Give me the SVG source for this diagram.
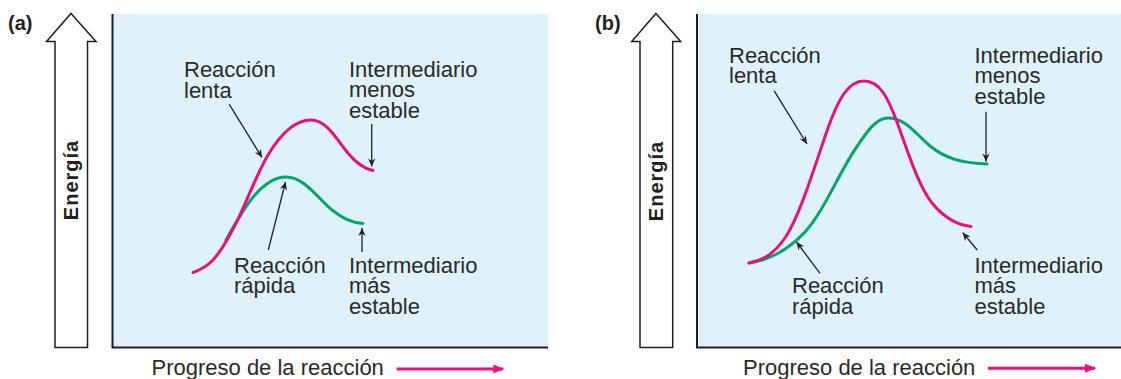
<svg xmlns="http://www.w3.org/2000/svg" width="1121" height="379" viewBox="0 0 1121 379">
<style>
.bg{fill:#dff1fb}
.axis{stroke:#231f20;stroke-width:2;fill:none}
.big{fill:#fff;stroke:#231f20;stroke-width:1.5;stroke-linejoin:miter}
.lbl{font-family:"Liberation Sans",Arial,sans-serif;font-size:22px;fill:#2a2a2a}
.panel{font-family:"Liberation Sans",Arial,sans-serif;font-size:20px;font-weight:bold;fill:#231f20}
.en{font-family:"Liberation Sans",Arial,sans-serif;font-size:20px;font-weight:bold;fill:#231f20;letter-spacing:1px}
.mag{stroke:#e5127d;stroke-width:3;fill:none;stroke-linecap:round}
.grn{stroke:#00a56e;stroke-width:3;fill:none;stroke-linecap:round}
.ptr{stroke:#231f20;stroke-width:1.3;fill:none;marker-end:url(#ah)}
.prog{stroke:#e5127d;stroke-width:3;fill:none;marker-end:url(#mh)}
</style>
<defs>
<marker id="ah" viewBox="-9 -5 10 10" markerWidth="10" markerHeight="10" refX="0" refY="0" orient="auto" markerUnits="userSpaceOnUse">
<path d="M0,0 L-8,-3.6 L-5.5,0 L-8,3.6 Z" fill="#231f20"/>
</marker>
<marker id="mh" viewBox="-11 -5 12 10" markerWidth="12" markerHeight="10" refX="0" refY="0" orient="auto" markerUnits="userSpaceOnUse">
<path d="M1,0 L-10,-4.5 L-10,4.5 Z" fill="#e5127d"/>
</marker>
</defs>

<g id="panel-a">
<text class="panel" x="8" y="29.5">(a)</text>
<rect class="bg" x="113" y="14" width="435" height="333.5"/>
<g id="energy-arrow-a">
<polygon class="big" points="71,13.5 96,41.5 87.5,41.5 87.5,347.5 55,347.5 55,41.5 46.5,41.5"/>
<text class="en" transform="translate(78,180) rotate(-90)" text-anchor="middle">Energía</text>
</g>
<path class="axis" d="M112.5,14 V347.5 H548"/>
<g id="curves-a">
<path class="grn" d="M226,240 C240,215 260,177 286,177 C305,177 318,199 332,210 C344,219 352,223 363,223.5"/>
<path class="mag" d="M193,272.5 C200,270 206,267 212,261 C222,251 230,236 240,215 C250,193 258,172 268,155 C280,135 295,120 311,120 C326,120 336,138 347,152 C356,163 364,169 373,170.5"/>
</g>
<g id="label-a-lenta"><text class="lbl" x="184" y="77">Reacción</text><text class="lbl" x="184" y="97.5">lenta</text></g>
<g id="label-a-menos"><text class="lbl" x="349" y="76.5">Intermediario</text><text class="lbl" x="349" y="97">menos</text><text class="lbl" x="349" y="117.5">estable</text></g>
<g id="label-a-rapida"><text class="lbl" x="234" y="272.7">Reacción</text><text class="lbl" x="234" y="293.3">rápida</text></g>
<g id="label-a-mas"><text class="lbl" x="349" y="272.7">Intermediario</text><text class="lbl" x="349" y="293.3">más</text><text class="lbl" x="349" y="314">estable</text></g>
<text class="lbl" x="151.5" y="375">Progreso de la reacción</text>
</g>

<g id="panel-b">
<text class="panel" x="595" y="29.5">(b)</text>
<rect class="bg" x="697.5" y="14" width="423.5" height="333.5"/>
<g id="energy-arrow-b">
<polygon class="big" points="656,13.5 680.7,41.5 672.7,41.5 672.7,347.5 640,347.5 640,41.5 631.7,41.5"/>
<text class="en" transform="translate(663,181) rotate(-90)" text-anchor="middle">Energía</text>
</g>
<path class="axis" d="M697,14 V347.5 H1121"/>
<g id="curves-b">
<path class="grn" d="M749,263 C770,260 790,248 805,232 C825,210 840,170 858,145 C868,130 877,118 888,118 C905,118 915,133 930,146 C945,158 960,163 987,164"/>
<path class="mag" d="M749,263 C765,260 775,252 785,238 C800,216 815,165 828,128 C838,100 848,81 864,81 C880,81 888,98 897,122 C908,152 918,185 932,203 C945,219 958,225 971,226.5"/>
</g>
<g id="label-b-lenta"><text class="lbl" x="729" y="62.7">Reacción</text><text class="lbl" x="729" y="83.3">lenta</text></g>
<g id="label-b-menos"><text class="lbl" x="974.5" y="62.7">Intermediario</text><text class="lbl" x="974.5" y="83.3">menos</text><text class="lbl" x="974.5" y="104">estable</text></g>
<g id="label-b-rapida"><text class="lbl" x="792" y="293.3">Reacción</text><text class="lbl" x="792" y="314">rápida</text></g>
<g id="label-b-mas"><text class="lbl" x="974.5" y="272.7">Intermediario</text><text class="lbl" x="974.5" y="293.3">más</text><text class="lbl" x="974.5" y="314">estable</text></g>
<text class="lbl" x="743" y="375">Progreso de la reacción</text>
</g>

<g id="connectors">
<line class="ptr" x1="229.3" y1="104.3" x2="262" y2="157.5"/>
<line class="ptr" x1="371.7" y1="124" x2="371.7" y2="166.5"/>
<line class="ptr" x1="268.3" y1="250" x2="285.5" y2="182"/>
<line class="ptr" x1="362" y1="252" x2="362" y2="228"/>
<line class="ptr" x1="774" y1="90.7" x2="807" y2="144"/>
<line class="ptr" x1="986" y1="111.7" x2="986" y2="161.5"/>
<line class="ptr" x1="820" y1="273.3" x2="796.5" y2="242"/>
<line class="ptr" x1="977.3" y1="250" x2="962.7" y2="232.7"/>
<line class="prog" x1="396.7" y1="369" x2="503.3" y2="369"/>
<line class="prog" x1="988" y1="368.3" x2="1095" y2="368.3"/>
</g>
</svg>
